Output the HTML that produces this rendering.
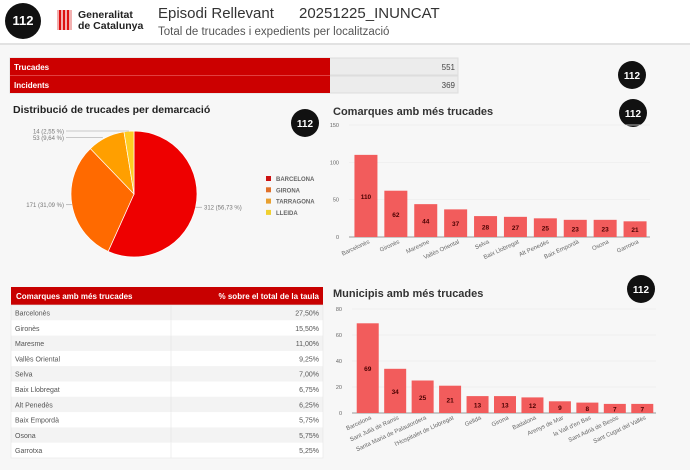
<!DOCTYPE html>
<html><head><meta charset="utf-8">
<style>
html,body{margin:0;padding:0;width:690px;height:470px;overflow:hidden;background:#f7f7f7;font-family:"Liberation Sans",sans-serif;}
svg{display:block}
</style></head>
<body>
<svg width="690" height="470" viewBox="0 0 690 470" font-family="Liberation Sans, sans-serif">
<rect x="0" y="0" width="690" height="44" fill="#ffffff"/>
<rect x="0" y="43" width="690" height="2" fill="#e2e2e2"/>
<g>
<circle cx="23" cy="21" r="18" fill="#111"/>
<text x="23" y="25" text-anchor="middle" fill="#fff" font-size="13" font-weight="bold">112</text>
</g>
<g>
<rect x="57" y="10" width="15" height="20" fill="#f2b0b0"/>
<rect x="59" y="10" width="2" height="20" fill="#d11"/><rect x="63" y="10" width="2" height="20" fill="#d11"/><rect x="67" y="10" width="2" height="20" fill="#d11"/>
<text x="78" y="18" font-size="10.5" font-weight="bold" fill="#222">Generalitat</text>
<text x="78" y="29" font-size="10.5" font-weight="bold" fill="#222">de Catalunya</text>
</g>
<text x="158" y="18" font-size="15" fill="#333">Episodi Rellevant</text>
<text x="299" y="18" font-size="15" fill="#333">20251225_INUNCAT</text>
<text x="158" y="35" font-size="11.5" fill="#555">Total de trucades i expedients per localització</text>

<g>
<rect x="10" y="58" width="448" height="17" fill="#ececec" stroke="#ddd"/>
<rect x="10" y="76" width="448" height="17" fill="#ececec" stroke="#ddd"/>
<rect x="10" y="58" width="320" height="35" fill="#cc0000"/>
<line x1="10" y1="75.5" x2="330" y2="75.5" stroke="#e04040"/>
<text x="14" y="70" font-size="8" font-weight="bold" fill="#fff">Trucades</text>
<text x="14" y="88" font-size="8" font-weight="bold" fill="#fff">Incidents</text>
<text x="455" y="70" font-size="8" fill="#444" text-anchor="end">551</text>
<text x="455" y="88" font-size="8" fill="#444" text-anchor="end">369</text>
</g>
<g><circle cx="632" cy="75" r="14" fill="#111"/><text x="632" y="79" text-anchor="middle" fill="#fff" font-size="10" font-weight="bold">112</text></g>
<g><circle cx="305" cy="123" r="14" fill="#111"/><text x="305" y="127" text-anchor="middle" fill="#fff" font-size="10" font-weight="bold">112</text></g>
<g><circle cx="633" cy="113" r="14" fill="#111"/><text x="633" y="117" text-anchor="middle" fill="#fff" font-size="10" font-weight="bold">112</text></g>
<g><circle cx="641" cy="289" r="14" fill="#111"/><text x="641" y="293" text-anchor="middle" fill="#fff" font-size="10" font-weight="bold">112</text></g>

<text x="13" y="113" font-size="10.5" font-weight="bold" fill="#222">Distribució de trucades per demarcació</text>
<g id="pie"></g>
<g id="legend"></g>

<text x="333" y="115" font-size="11" font-weight="bold" fill="#333">Comarques amb més trucades</text>
<g id="chart1"></g>
<text x="333" y="297" font-size="11" font-weight="bold" fill="#333">Municipis amb més trucades</text>
<g id="chart2"></g>
<g id="table"></g>
</svg>
<script>
const NS="http://www.w3.org/2000/svg";
const pieLabels=["BARCELONA","GIRONA","TARRAGONA","LLEIDA"];
const pieValues=[312,171,53,14];
const piePct=["56,73 %","31,09 %","9,64 %","2,55 %"];
const pieColors=["#ee0000","#ff6a00","#ff9f00","#ffcc22"];
const legendColors=["#cc1111","#e0702a","#e8a030","#f0d030"];
const c1Labels=["Barcelonès","Gironès","Maresme","Vallès Oriental","Selva","Baix Llobregat","Alt Penedès","Baix Empordà","Osona","Garrotxa"];
const c1Values=[110,62,44,37,28,27,25,23,23,21];
const c1Ticks=[0,50,100,150];
const c2Labels=["Barcelona","Sant Julià de Ramis","Santa Maria de Palautordera","l'Hospitalet de Llobregat","Gelida","Girona","Badalona","Arenys de Mar","la Vall d'en Bas","Sant Adrià de Besòs","Sant Cugat del Vallès"];
const c2Values=[69,34,25,21,13,13,12,9,8,7,7];
const c2Ticks=[0,20,40,60,80];
const tableNames=["Barcelonès","Gironès","Maresme","Vallès Oriental","Selva","Baix Llobregat","Alt Penedès","Baix Empordà","Osona","Garrotxa"];
const tablePct=["27,50%","15,50%","11,00%","9,25%","7,00%","6,75%","6,25%","5,75%","5,75%","5,25%"];

function mk(tag,attrs,parent,txt){const e=document.createElementNS(NS,tag);for(const k in attrs)e.setAttribute(k,attrs[k]);if(txt!=null)e.textContent=txt;parent.appendChild(e);return e;}

// pie
(function(){
 const g=document.getElementById('pie');const cx=134,cy=194,r=63;
 const tot=pieValues.reduce((a,b)=>a+b,0);let a0=0;
 pieValues.forEach((v,i)=>{
  const a1=a0+v/tot*2*Math.PI;
  const x0=cx+r*Math.sin(a0),y0=cy-r*Math.cos(a0),x1=cx+r*Math.sin(a1),y1=cy-r*Math.cos(a1);
  const large=(a1-a0)>Math.PI?1:0;
  const p=mk('path',{d:`M${cx},${cy}L${x0},${y0}A${r},${r} 0 ${large} 1 ${x1},${y1}Z`,fill:pieColors[i],stroke:'#fff','stroke-width':0.7},g);
  
  
  const am=(a0+a1)/2;let lx,ly,tx,anchor;
  if(i===0){lx=cx+r*Math.sin(am);ly=cy-r*Math.cos(am);tx=202;anchor='start';mk('line',{x1:lx,y1:ly,x2:tx,y2:ly,stroke:'#999','stroke-width':0.6},g);mk('text',{x:tx+2,y:ly+2.5,'font-size':6,fill:'#777','text-anchor':anchor},g,v+' ('+piePct[i]+')');}
  else{lx=cx+r*Math.sin(am);ly=cy-r*Math.cos(am);
   if(i===2){ly=cy-r*Math.cos(am);ly=Math.min(ly,138);}
   if(i===3){ly=131;}
   if(i===1){ly=cy-r*Math.cos(am);}
   const ex=i===1?cx+r*Math.sin(am):(i===2?cx+r*Math.sin(am)-3:cx+r*Math.sin(am));
   tx=66;mk('line',{x1:ex,y1:ly,x2:tx,y2:ly,stroke:'#999','stroke-width':0.6},g);
   mk('text',{x:tx-2,y:ly+2.5,'font-size':6,fill:'#777','text-anchor':'end'},g,v+' ('+piePct[i]+')');}
  a0=a1;
 });
 const lg=document.getElementById('legend');
 pieLabels.forEach((l,i)=>{
  const y=179+i*11.3;
  const it=mk('g',{},lg);
  
  
  mk('rect',{x:266,y:y-3,width:5,height:5,fill:legendColors[i]},it);
  mk('text',{x:276,y:y+2,'font-size':6,'font-weight':'bold',fill:'#666'},it,l);
 });
})();

function barChart(id,labels,values,ticks,o){
 const g=document.getElementById(id);
 const ys=v=>o.y0-(v-ticks[0])/(ticks[ticks.length-1]-ticks[0])*(o.y0-o.y1);
 const step=(o.xEnd-o.x0)/labels.length;
 const xs=i=>o.x0+i*step;
 ticks.forEach(t=>{
  const y=ys(t);
  mk('line',{x1:o.x0-2,y1:y,x2:o.xEnd,y2:y,stroke:t===0?'#999':'#ececec','stroke-width':t===0?1:0.7},g);
  const tl=mk('text',{x:o.x0-12,y:y+2,'font-size':5.5,fill:'#666','text-anchor':'end'},g,t);
  
  
 });
 labels.forEach((l,i)=>{
  const x=xs(i)+(step-o.bw)/2,y=ys(values[i]);
  const b=mk('rect',{x:x,y:y,width:o.bw,height:ys(0)-y,fill:'#f25c5c'},g);
  
  
  mk('text',{x:x+o.bw/2,y:(y+ys(0))/2+3,'font-size':6.5,'font-weight':'bold',fill:'#4a0000','text-anchor':'middle'},g,values[i]);
  const cx=x+o.bw/2+4;const ly=ys(0)+6;
  const t=mk('text',{x:cx,y:ly,'font-size':6,fill:'#666','text-anchor':'end',transform:`rotate(-25 ${cx} ${ly})`},g,l);
  
  
 });
}
barChart('chart1',c1Labels,c1Values,c1Ticks,{x0:351,xEnd:650,y0:237,y1:125,bw:23});
barChart('chart2',c2Labels,c2Values,c2Ticks,{x0:354,xEnd:656,y0:413,y1:309,bw:22});

(function(){
 const g=document.getElementById('table');
 mk('rect',{x:11,y:287,width:312,height:18,fill:'#c80000'},g);
 mk('text',{x:16,y:299,'font-size':8,'font-weight':'bold',fill:'#fff'},g,'Comarques amb més trucades');
 mk('text',{x:319,y:299,'font-size':8,'font-weight':'bold',fill:'#fff','text-anchor':'end'},g,'% sobre el total de la taula');
 const rh=15.3;
 tableNames.forEach((n,i)=>{
  const y=305+i*rh;
  const row=mk('g',{},g);
  
  
  mk('rect',{x:11,y:y,width:312,height:rh,fill:i%2?'#ffffff':'#f3f3f3'},row);
  mk('line',{x1:171,y1:y,x2:171,y2:y+rh,stroke:'#e4e4e4','stroke-width':0.6},row);
  mk('text',{x:15,y:y+10.5,'font-size':7,fill:'#555'},row,n);
  mk('text',{x:319,y:y+10.5,'font-size':7,fill:'#555','text-anchor':'end'},row,tablePct[i]);
 });
 mk('rect',{x:11,y:305,width:312,height:rh*10,fill:'none',stroke:'#e4e4e4','stroke-width':0.6},g);
})();
</script>
</body></html>
